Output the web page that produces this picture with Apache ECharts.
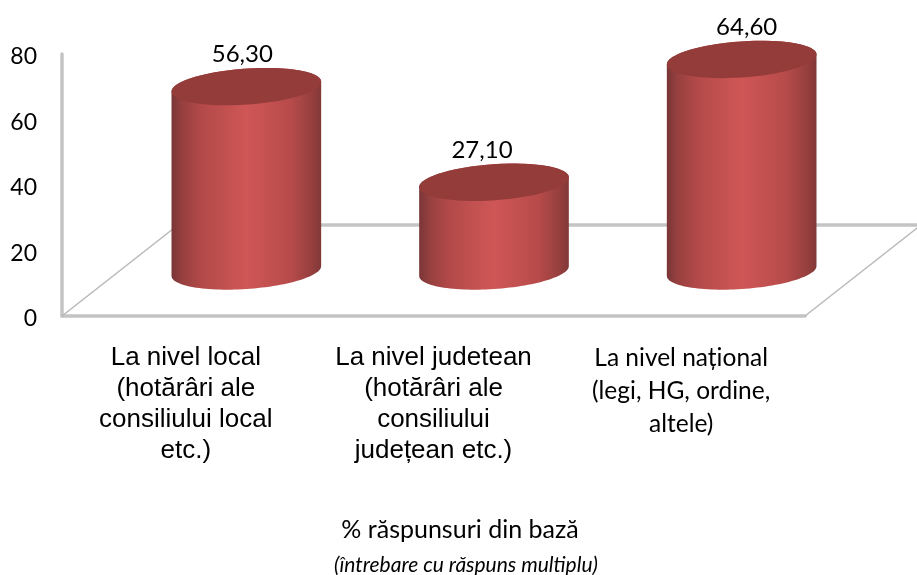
<!DOCTYPE html>
<html>
<head>
<meta charset="utf-8">
<style>
  html, body { margin: 0; padding: 0; background: #fff; }
  #chart { width: 917px; height: 575px; }
</style>
<script src="https://cdn.jsdelivr.net/npm/echarts@6/dist/echarts.min.js"></script>
</head>
<body>
<div id="chart"></div>
<script>
// date
var categories = [
    'La nivel local\n(hotărâri ale\nconsiliului local\netc.)',
    'La nivel judetean\n(hotărâri ale\nconsiliului\njudețean etc.)',
    'La nivel național\n(legi, HG, ordine,\naltele)'
];
var values = [56.3, 27.1, 64.6];
var yTicks = [0, 20, 40, 60, 80];

var labelDx = [-4, -12, 5];
var floorDepth = [116, -91];
var baseShift = [60.5, -45];
var gray = '#c4c4c4';

var chart = echarts.init(document.getElementById('chart'));

// punct pe elipsa inclinata
function ellipsePoint(cx, cy, a, b, theta, t) {
    return [
        cx + a * Math.cos(t) * Math.cos(theta) - b * Math.sin(t) * Math.sin(theta),
        cy + a * Math.cos(t) * Math.sin(theta) + b * Math.sin(t) * Math.cos(theta)
    ];
}

function ellipsePoints(cx, cy, a, b, theta, from, to) {
    var pts = [];
    for (var i = 0; i <= 60; i++) {
        pts.push(ellipsePoint(cx, cy, a, b, theta, from + (to - from) * i / 60));
    }
    return pts;
}

function renderFloor(params, api) {
    var x0 = params.coordSys.x;
    var x1 = x0 + params.coordSys.width;
    var y0 = params.coordSys.y + params.coordSys.height;
    var bx = floorDepth[0], by = floorDepth[1];
    return {
        type: 'group',
        children: [
            { type: 'line', shape: { x1: x0, y1: y0, x2: x0 + bx, y2: y0 + by }, style: { stroke: '#b8b8b8', lineWidth: 1.5 } },
            { type: 'line', shape: { x1: x1, y1: y0, x2: x1 + bx, y2: y0 + by }, style: { stroke: '#b8b8b8', lineWidth: 1.5 } },
            { type: 'line', shape: { x1: x0 + bx, y1: y0 + by, x2: x1 + bx, y2: y0 + by }, style: { stroke: gray, lineWidth: 3.5 } }
        ]
    };
}

function renderCylinder(params, api) {
    var idx = api.value(0);
    var val = api.value(1);
    var top = api.coord([idx, val]);
    var base = api.coord([idx, 0]);
    var cx = top[0] + baseShift[0];
    var topY = top[1] + baseShift[1];
    var baseY = base[1] + baseShift[1];
    var a = 75, b = 18, theta = -4 * Math.PI / 180;
    // unghiul unde elipsa atinge marginile laterale
    var edge = Math.atan2(-b * Math.sin(theta), a * Math.cos(theta));

    var bodyPts = ellipsePoints(cx, baseY, a, b, theta, edge, edge + Math.PI)
        .concat(ellipsePoints(cx, topY, a, b, theta, edge + Math.PI, edge + 2 * Math.PI));

    return {
        type: 'group',
        children: [
            {
                type: 'polygon',
                shape: { points: bodyPts },
                style: {
                    fill: new echarts.graphic.LinearGradient(0, 0, 1, 0, [
                        { offset: 0, color: '#7a3536' },
                        { offset: 0.07, color: '#96403f' },
                        { offset: 0.2, color: '#b24a49' },
                        { offset: 0.5, color: '#cf5756' },
                        { offset: 0.8, color: '#b64b4a' },
                        { offset: 0.95, color: '#923e3d' },
                        { offset: 1, color: '#813837' }
                    ])
                }
            },
            {
                type: 'polygon',
                shape: { points: ellipsePoints(cx, topY, a, b, theta, 0, 2 * Math.PI) },
                style: { fill: '#933c3a' }
            },
            {
                type: 'text',
                style: {
                    x: cx + labelDx[idx],
                    y: topY - 32,
                    text: val.toFixed(2).replace('.', ','),
                    fill: '#000',
                    font: '24px Lato',
                    align: 'center',
                    verticalAlign: 'middle'
                }
            }
        ]
    };
}

var option = {
    animation: false,
    backgroundColor: '#fff',
    textStyle: { fontFamily: 'Lato' },
    grid: { left: 62, right: 112, top: 54, bottom: 259, containLabel: false },
    xAxis: {
        type: 'category',
        data: categories,
        axisTick: { show: false },
        axisLine: { lineStyle: { color: gray, width: 3.5 } },
        axisLabel: {
            interval: 0,
            margin: 26,
            verticalAlign: 'top',
            align: 'center',
            formatter: function (value, index) {
                var style = index === 2 ? 'n' : 'l';
                return value.split('\n').map(function (line) {
                    return '{' + style + '|' + line + '}';
                }).join('\n');
            },
            rich: {
                l: { fontFamily: 'Liberation Sans', fontSize: 26, lineHeight: 31, color: '#000' },
                n: { fontFamily: 'Lato', fontSize: 24.5, lineHeight: 33, color: '#000' }
            }
        }
    },
    yAxis: {
        type: 'value',
        min: yTicks[0],
        max: yTicks[yTicks.length - 1],
        interval: 20,
        splitLine: { show: false },
        axisTick: { show: false },
        axisLine: { show: true, lineStyle: { color: gray, width: 3.5 } },
        axisLabel: {
            margin: 25,
            formatter: '{t|{value}}',
            rich: {
                t: { color: '#000', fontFamily: 'Lato', fontSize: 23, padding: [6, 0, 0, 0] }
            }
        }
    },
    graphic: [
        { type: 'text', x: 460, y: 530, style: { text: '% răspunsuri din bază', fill: '#000', font: '25px Lato', align: 'center', verticalAlign: 'middle' } },
        { type: 'text', x: 466, y: 565, style: { text: '(întrebare cu răspuns multiplu)', fill: '#000', font: 'italic 21px Lato', align: 'center', verticalAlign: 'middle' } }
    ],
    series: [
        {
            type: 'custom',
            silent: true,
            clip: false,
            z: 1,
            renderItem: renderFloor,
            data: [[0, 0]]
        },
        {
            type: 'custom',
            silent: true,
            clip: false,
            z: 2,
            renderItem: renderCylinder,
            encode: { x: 0, y: 1 },
            data: values.map(function (v, i) { return [i, v]; })
        }
    ]
};

chart.setOption(option);
</script>
</body>
</html>
